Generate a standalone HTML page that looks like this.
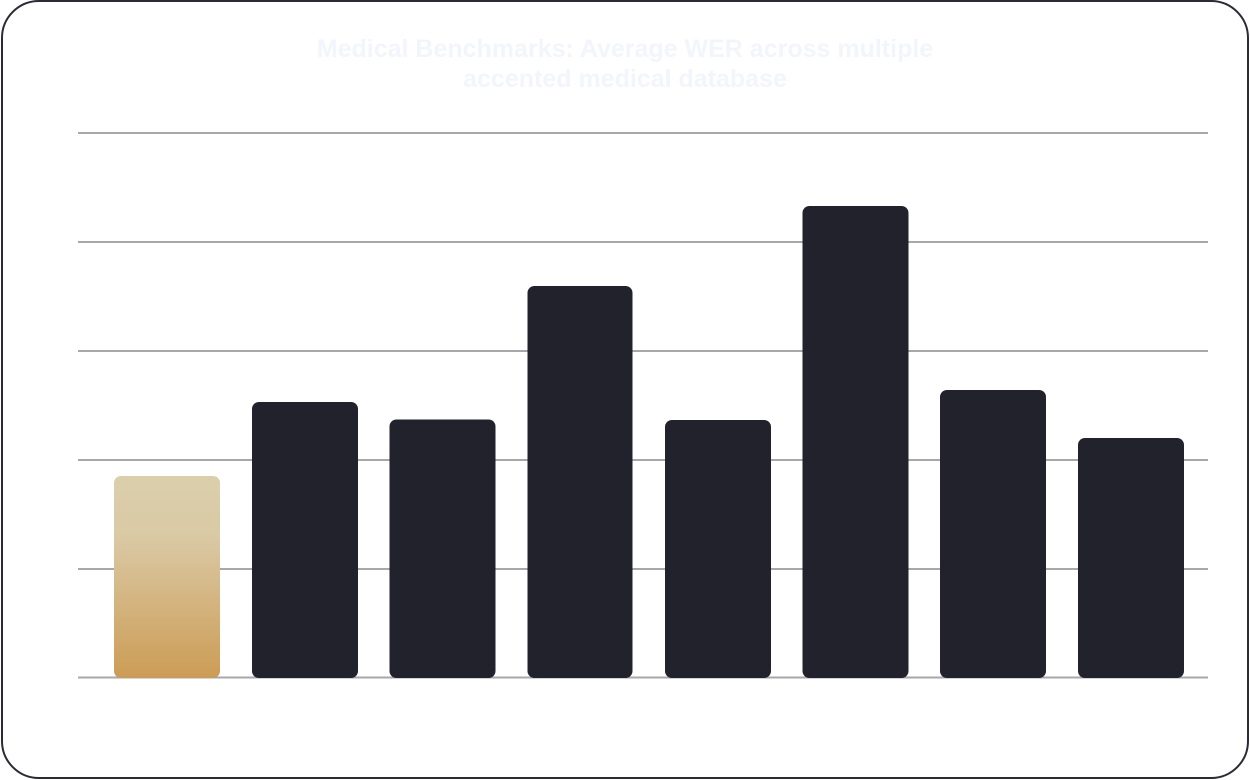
<!DOCTYPE html>
<html>
<head>
<meta charset="utf-8">
<style>
  html,body{margin:0;padding:0;background:#ffffff;}
  body{width:1250px;height:780px;position:relative;overflow:hidden;}
  .frame{position:absolute;left:1px;top:0px;width:1248px;height:779px;box-sizing:border-box;border:2px solid #2b2a36;border-radius:38px;background:#fff;}
  .title{position:absolute;left:0;top:34px;width:1250px;text-align:center;font-family:"Liberation Sans",Arial,sans-serif;font-weight:bold;font-size:25px;line-height:30px;color:#f3f5fc;}
  svg{position:absolute;left:0;top:0;}
</style>
</head>
<body>
<div class="frame"></div>
<div class="title">Medical Benchmarks: Average WER across multiple<br>accented medical database</div>
<svg width="1250" height="780" viewBox="0 0 1250 780" xmlns="http://www.w3.org/2000/svg">
  <defs>
    <linearGradient id="gold" x1="0" y1="0" x2="0" y2="1">
      <stop offset="0" stop-color="#dbcfab"/>
      <stop offset="0.3" stop-color="#dac9a5"/>
      <stop offset="1" stop-color="#cc9c55"/>
    </linearGradient>
  </defs>
  <g fill="#a7a7ad">
    <rect x="78" y="132" width="1130" height="2"/>
    <rect x="78" y="241" width="1130" height="2"/>
    <rect x="78" y="350" width="1130" height="2"/>
    <rect x="78" y="459" width="1130" height="2"/>
    <rect x="78" y="568" width="1130" height="2"/>
    <rect x="78" y="676.5" width="1130" height="2"/>
  </g>
  <rect x="114" y="476" width="106" height="202" rx="7" ry="7" fill="url(#gold)"/>
  <g fill="#22222d">
    <rect x="252" y="402" width="106" height="276" rx="7" ry="7"/>
    <rect x="389.5" y="419.5" width="106" height="258.5" rx="7" ry="7"/>
    <rect x="527.5" y="286" width="105" height="392" rx="7" ry="7"/>
    <rect x="665" y="420" width="106" height="258" rx="7" ry="7"/>
    <rect x="802.5" y="206" width="106" height="472" rx="7" ry="7"/>
    <rect x="940" y="390" width="106" height="288" rx="7" ry="7"/>
    <rect x="1078" y="438" width="106" height="240" rx="7" ry="7"/>
  </g>
</svg>
</body>
</html>
